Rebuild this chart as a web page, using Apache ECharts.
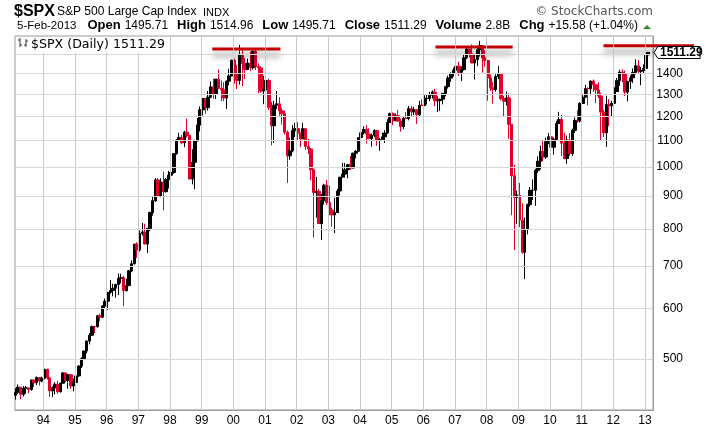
<!DOCTYPE html>
<html><head><meta charset="utf-8">
<script src="https://cdn.jsdelivr.net/npm/echarts@6/dist/echarts.min.js"></script>
<style>html,body{margin:0;padding:0;background:#fff}#c{width:706px;height:435px}</style>
</head><body><div id="c"></div>
<script>
// ---- data (monthly OHLC of $SPX) ----
const firstYear = 1993, firstMonth = 2; // Feb 1993
const opens = [
 438.8,443.4,451.7,440.2,450.2,450.5,448.1,463.6,458.9,467.8,461.8,
 466.5,481.6,467.1,445.8,450.9,456.5,444.3,458.3,475.5,462.7,472.4,453.7,
 459.3,470.4,487.4,500.7,514.7,533.4,544.8,562.1,561.9,584.4,581.5,605.4,
 615.9,636.0,640.4,645.5,654.2,669.1,670.6,640.0,652.0,687.3,705.3,757.0,
 740.7,786.2,790.8,757.1,801.3,848.3,885.1,954.3,899.5,947.3,914.6,955.4,
 970.4,980.3,1049.3,1101.8,1111.8,1090.8,1133.8,1120.7,957.3,1017.0,1098.7,1163.6,
 1229.2,1279.6,1238.3,1286.4,1335.2,1301.8,1372.7,1328.7,1320.4,1282.7,1362.9,1388.9,
 1469.3,1394.5,1366.4,1498.6,1452.4,1420.6,1454.6,1430.8,1517.7,1436.5,1429.4,1315.0,
 1320.3,1366.0,1239.9,1160.3,1249.5,1255.8,1224.4,1211.2,1133.6,1040.9,1059.8,1139.5,
 1148.1,1130.2,1106.7,1147.4,1076.9,1067.1,989.8,911.6,916.1,815.3,885.8,936.3,
 879.8,855.7,841.2,848.2,916.9,963.6,974.5,990.3,1008.0,996.0,1050.7,1058.2,
 1111.9,1131.1,1144.9,1126.2,1107.3,1120.7,1140.8,1101.7,1104.2,1114.6,1130.2,1173.8,
 1211.9,1181.3,1203.6,1180.6,1156.9,1191.5,1191.3,1234.2,1220.3,1228.8,1207.0,1249.5,
 1248.3,1280.1,1280.7,1294.8,1310.6,1270.1,1270.2,1276.7,1303.8,1335.9,1377.9,1400.6,
 1418.3,1438.2,1406.8,1420.9,1482.4,1530.6,1503.4,1455.3,1474.0,1526.8,1549.4,1481.1,
 1468.4,1378.6,1330.6,1322.7,1385.6,1400.4,1280.0,1267.4,1282.8,1166.4,968.8,896.2,
 903.3,825.9,735.1,797.9,872.8,919.1,919.3,987.5,1020.6,1057.1,1036.2,1095.6,
 1115.1,1073.9,1104.5,1169.4,1186.7,1089.4,1030.7,1101.6,1049.3,1141.2,1183.3,1180.6,
 1257.6,1286.1,1327.2,1325.8,1363.6,1345.2,1320.6,1292.3,1218.9,1131.4,1253.3,1247.0,
 1257.6,1312.4,1365.7,1408.5,1397.9,1310.3,1362.2,1379.3,1406.6,1440.7,1412.2,1416.2,
 1426.2,1498.1
];
const highs = [
 450.0,456.3,452.0,453.5,453.9,451.0,464.0,464.0,469.5,468.6,468.9,
 482.9,482.8,469.0,453.0,460.0,462.1,459.0,477.0,476.0,474.0,474.0,466.0,
 472.0,489.0,503.0,515.0,535.0,549.0,564.0,564.0,586.0,589.0,607.0,622.0,
 636.0,665.0,656.0,656.0,681.0,680.0,675.0,668.0,690.0,714.0,757.0,762.0,
 795.0,817.0,815.0,802.0,851.0,898.0,961.0,961.0,960.0,983.0,961.0,986.0,
 992.0,1051.0,1106.0,1131.0,1123.0,1139.0,1190.0,1122.0,1066.0,1103.0,1193.0,1244.0,
 1280.0,1282.0,1316.0,1362.0,1376.0,1373.0,1421.0,1366.0,1358.0,1366.0,1425.0,1473.0,
 1478.0,1444.0,1553.0,1528.0,1481.0,1478.0,1517.0,1525.0,1531.0,1454.0,1438.0,1389.0,
 1383.0,1376.0,1264.0,1269.0,1316.0,1286.0,1239.0,1226.0,1141.0,1111.0,1163.0,1173.0,
 1176.0,1131.0,1173.0,1148.0,1107.0,1070.0,994.0,965.0,924.0,907.0,941.0,954.0,
 935.0,864.0,895.0,924.0,965.0,1015.0,1015.0,1011.0,1040.0,1053.0,1063.0,1112.0,
 1155.0,1158.0,1163.0,1150.0,1128.0,1146.0,1141.0,1110.0,1132.0,1142.0,1188.0,1217.0,
 1217.0,1212.0,1229.0,1191.0,1199.0,1219.0,1246.0,1246.0,1243.0,1233.0,1270.0,1276.0,
 1295.0,1297.0,1311.0,1318.0,1326.0,1290.0,1280.0,1307.0,1340.0,1390.0,1407.0,1431.0,
 1441.0,1462.0,1438.0,1498.0,1535.0,1541.0,1556.0,1503.0,1539.0,1576.0,1553.0,1524.0,
 1471.0,1396.0,1359.0,1397.0,1440.0,1404.0,1292.0,1313.0,1303.0,1167.0,1007.0,918.0,
 944.0,877.0,833.0,876.0,930.0,956.0,993.0,1039.0,1080.0,1101.0,1111.0,1130.0,
 1150.0,1112.0,1181.0,1220.0,1206.0,1131.0,1120.0,1130.0,1148.0,1196.0,1227.0,1263.0,
 1302.0,1345.0,1333.0,1365.0,1371.0,1346.0,1357.0,1307.0,1230.0,1293.0,1277.0,1269.0,
 1333.0,1378.0,1420.0,1423.0,1416.0,1364.0,1392.0,1427.0,1475.0,1471.0,1435.0,1448.0,
 1503.0,1515.0
];
const lows = [
 431.9,441.0,432.5,436.9,441.1,441.6,446.0,452.0,455.0,454.4,460.0,
 464.4,464.3,436.2,435.9,440.0,441.0,443.0,457.0,460.0,449.0,449.0,445.0,
 457.0,469.0,484.0,499.0,510.0,527.0,543.0,549.0,560.0,573.0,580.0,599.0,
 597.0,633.0,627.0,624.0,630.0,657.0,605.0,638.0,650.0,684.0,703.0,720.0,
 737.0,781.0,756.0,733.0,793.0,839.0,882.0,898.0,896.0,855.0,912.0,925.0,
 912.0,976.0,1045.0,1098.0,1085.0,1074.0,1112.0,957.0,939.0,923.0,1096.0,1137.0,
 1204.0,1211.0,1225.0,1282.0,1280.0,1278.0,1325.0,1268.0,1268.0,1233.0,1342.0,1387.0,
 1350.0,1325.0,1346.0,1339.0,1374.0,1420.0,1413.0,1421.0,1419.0,1305.0,1307.0,1254.0,
 1274.0,1228.0,1081.0,1091.0,1232.0,1203.0,1165.0,1124.0,944.0,1026.0,1054.0,1114.0,
 1101.0,1074.0,1106.0,1063.0,1048.0,953.0,775.0,833.0,815.0,768.0,873.0,872.0,
 840.0,806.0,788.0,847.0,902.0,963.0,962.0,960.0,990.0,995.0,1031.0,1058.0,
 1105.0,1124.0,1088.0,1107.0,1076.0,1113.0,1079.0,1060.0,1099.0,1090.0,1127.0,1173.0,
 1163.0,1180.0,1176.0,1136.0,1146.0,1188.0,1183.0,1201.0,1205.0,1168.0,1201.0,1246.0,
 1245.0,1253.0,1268.0,1280.0,1245.0,1219.0,1224.0,1253.0,1290.0,1327.0,1360.0,1385.0,
 1403.0,1389.0,1364.0,1416.0,1476.0,1484.0,1454.0,1371.0,1439.0,1489.0,1406.0,1435.0,
 1270.0,1316.0,1257.0,1312.0,1373.0,1272.0,1200.0,1248.0,1107.0,840.0,741.0,815.0,
 805.0,731.0,667.0,784.0,866.0,888.0,869.0,979.0,991.0,1020.0,1029.0,1086.0,
 1071.0,1045.0,1101.0,1169.0,1040.0,1028.0,1011.0,1040.0,1040.0,1131.0,1173.0,1174.0,
 1257.0,1282.0,1249.0,1295.0,1311.0,1259.0,1282.0,1101.0,1114.0,1075.0,1158.0,1202.0,
 1257.0,1312.0,1340.0,1358.0,1292.0,1267.0,1325.0,1354.0,1397.0,1403.0,1343.0,1398.0,
 1426.0,1495.0
];
const closes = [
 443.4,451.7,440.2,450.2,450.5,448.1,463.6,458.9,467.8,461.8,466.5,
 481.6,467.1,445.8,450.9,456.5,444.3,458.3,475.5,462.7,472.4,453.7,459.3,
 470.4,487.4,500.7,514.7,533.4,544.8,562.1,561.9,584.4,581.5,605.4,615.9,
 636.0,640.4,645.5,654.2,669.1,670.6,640.0,652.0,687.3,705.3,757.0,740.7,
 786.2,790.8,757.1,801.3,848.3,885.1,954.3,899.5,947.3,914.6,955.4,970.4,
 980.3,1049.3,1101.8,1111.8,1090.8,1133.8,1120.7,957.3,1017.0,1098.7,1163.6,1229.2,
 1279.6,1238.3,1286.4,1335.2,1301.8,1372.7,1328.7,1320.4,1282.7,1362.9,1388.9,1469.3,
 1394.5,1366.4,1498.6,1452.4,1420.6,1454.6,1430.8,1517.7,1436.5,1429.4,1315.0,1320.3,
 1366.0,1239.9,1160.3,1249.5,1255.8,1224.4,1211.2,1133.6,1040.9,1059.8,1139.5,1148.1,
 1130.2,1106.7,1147.4,1076.9,1067.1,989.8,911.6,916.1,815.3,885.8,936.3,879.8,
 855.7,841.2,848.2,916.9,963.6,974.5,990.3,1008.0,996.0,1050.7,1058.2,1111.9,
 1131.1,1144.9,1126.2,1107.3,1120.7,1140.8,1101.7,1104.2,1114.6,1130.2,1173.8,1211.9,
 1181.3,1203.6,1180.6,1156.9,1191.5,1191.3,1234.2,1220.3,1228.8,1207.0,1249.5,1248.3,
 1280.1,1280.7,1294.8,1310.6,1270.1,1270.2,1276.7,1303.8,1335.9,1377.9,1400.6,1418.3,
 1438.2,1406.8,1420.9,1482.4,1530.6,1503.4,1455.3,1474.0,1526.8,1549.4,1481.1,1468.4,
 1378.6,1330.6,1322.7,1385.6,1400.4,1280.0,1267.4,1282.8,1166.4,968.8,896.2,903.3,
 825.9,735.1,797.9,872.8,919.1,919.3,987.5,1020.6,1057.1,1036.2,1095.6,1115.1,
 1073.9,1104.5,1169.4,1186.7,1089.4,1030.7,1101.6,1049.3,1141.2,1183.3,1180.6,1257.6,
 1286.1,1327.2,1325.8,1363.6,1345.2,1320.6,1292.3,1218.9,1131.4,1253.3,1247.0,1257.6,
 1312.4,1365.7,1408.5,1397.9,1310.3,1362.2,1379.3,1406.6,1440.7,1412.2,1416.2,1426.2,
 1498.1,1511.3
];
const yearLabels = ['94','95','96','97','98','99','00','01','02','03','04','05','06','07','08','09','10','11','12','13'];
const yearTicks = [1994,1995,1996,1997,1998,1999,2000,2001,2002,2003,2004,2005,2006,2007,2008,2009,2010,2011,2012,2013];
const priceTicks = [500,600,700,800,900,1000,1100,1200,1300,1400,1500];
const priceLabels = ['500','600','700','800','900','1000','1100','1200','1300','1400',''];
// resistance annotations: [start, end, level]
const resistStart = ['1999-05-04','2006-05-21','2011-09-10'];
const resistEnd   = ['2001-06-28','2008-10-27','2014-07-20'];
const resistLevel = [1530, 1542, 1548];
const lastClose = 1511.29;
const lastDate = '2013-02-05';
const headerItems = [
  ['Open', '1495.71'], ['High', '1514.96'], ['Low', '1495.71'],
  ['Close', '1511.29'], ['Volume', '2.8B'], ['Chg', '+15.58 (+1.04%)']
];

// ---- build ----
const ts = s => { const p = s.split('-').map(Number); return Date.UTC(p[0], p[1]-1, p[2]); };
const candles = closes.map((c, i) => {
  const m = firstMonth - 1 + i;
  const y = firstYear + Math.floor(m / 12);
  const mo = m % 12;
  const isLast = i === closes.length - 1;
  const t = Date.UTC(y, mo, isLast ? 3 : 15);
  return [t, opens[i], c, lows[i], highs[i]];
});
const FONT = '"Liberation Sans", Arial, sans-serif';

const gridLinesV = yearTicks.map((y, i) => ({ name: yearLabels[i], xAxis: Date.UTC(y, 0, 1) }));
const gridLinesH = priceTicks.map((v, i) => ({ name: priceLabels[i], yAxis: v,
  label: { show: priceLabels[i] !== '' } }));

const header2 = '{d|5-Feb-2013}{g0|}' + headerItems.map(h => '{b|' + h[0] + '}{s|}{v|' + h[1] + '}').join('{g|}');

const chart = echarts.init(document.getElementById('c'), null, { renderer: 'canvas' });
const graphics = [
  { type: 'text', left: 14, top: 4, style: { text: '$SPX', font: 'bold 16px ' + FONT, fill: '#000' } },
  { type: 'text', left: 57, top: 6, style: { text: 'S&P 500 Large Cap Index', font: '12px ' + FONT, fill: '#000' } },
  { type: 'text', left: 203, top: 7, style: { text: 'INDX', font: '11px ' + FONT, fill: '#000' } },
  { type: 'text', right: 53, top: 6, style: { text: '© StockCharts.com', font: '12px "DejaVu Sans", sans-serif', fill: '#555' } },
  { type: 'text', left: 17, top: 19, style: { text: header2, rich: {
      d: { font: '11.5px ' + FONT, fill: '#000' },
      g0: { width: 11 },
      g: { width: 9 },
      s: { width: 4 },
      b: { font: 'bold 13px ' + FONT, fill: '#000' },
      v: { font: '12px ' + FONT, fill: '#000' }
  } } },
  { type: 'polygon', shape: { points: [[643, 29], [651, 29], [647, 25]] }, style: { fill: '#2e8b2e' } },
  // legend box inside plot
  { type: 'rect', shape: { x: 16, y: 37, width: 153, height: 16 }, style: { fill: '#fff' }, z: 10 },
  { type: 'polyline', shape: { points: [[20, 38], [20, 47]] }, style: { stroke: '#333', lineWidth: 1 }, z: 11 },
  { type: 'polyline', shape: { points: [[18, 40], [20, 40]] }, style: { stroke: '#333', lineWidth: 1 }, z: 11 },
  { type: 'polyline', shape: { points: [[20, 45], [22, 45]] }, style: { stroke: '#333', lineWidth: 1 }, z: 11 },
  { type: 'polyline', shape: { points: [[26, 39], [26, 47]] }, style: { stroke: '#333', lineWidth: 1 }, z: 11 },
  { type: 'polyline', shape: { points: [[24, 45], [26, 45]] }, style: { stroke: '#333', lineWidth: 1 }, z: 11 },
  { type: 'polyline', shape: { points: [[26, 41], [28, 41]] }, style: { stroke: '#333', lineWidth: 1 }, z: 11 },
  { type: 'text', left: 31, top: 38, z: 11, style: { text: '$SPX (Daily) 1511.29', font: '12.6px "DejaVu Sans", sans-serif', fill: '#000' } }
];

chart.setOption({
  animation: false,
  backgroundColor: '#fff',
  grid: { left: 15, right: 53, top: 36, bottom: 25, show: true, borderColor: '#9a9a9a', borderWidth: 1 },
  xAxis: {
    type: 'time', min: ts('1993-02-08'), max: ts('2013-04-03'),
    axisLabel: { show: false }, axisTick: { show: false }, splitLine: { show: false },
    axisLine: { show: true, lineStyle: { color: '#9a9a9a' } }
  },
  yAxis: {
    type: 'log', logBase: 10, position: 'right', min: 416, max: 1604,
    axisLabel: { show: false }, axisTick: { show: false }, splitLine: { show: false }, minorTick: { show: false },
    axisLine: { show: true, lineStyle: { color: '#9a9a9a' } }
  },
  graphic: graphics,
  series: [
    {
      type: 'line', data: [], silent: true, z: 1,
      markLine: {
        silent: true, symbol: ['none', 'none'], animation: false,
        lineStyle: { color: '#c8c8c8', type: 'solid', width: 1 },
        emphasis: { disabled: true },
        label: { position: 'start', formatter: '{b}', distance: 5, color: '#000', fontSize: 12, fontFamily: FONT },
        data: gridLinesV
      }
    },
    {
      type: 'line', data: [], silent: true, z: 1,
      markLine: {
        silent: true, symbol: ['none', 'none'], animation: false,
        lineStyle: { color: '#d6d6d6', type: 'solid', width: 1 },
        emphasis: { disabled: true },
        label: { position: 'end', distance: 3, formatter: p => '{a|' + p.name + '}',
          rich: { a: { width: 27, align: 'right', color: '#000', fontSize: 12, fontFamily: FONT } } },
        data: gridLinesH
      }
    },
    {
      type: 'candlestick', z: 3, barWidth: 3, silent: true,
      data: candles,
      itemStyle: { color: '#000', color0: '#e2002a', borderColor: '#000', borderColor0: '#e2002a', borderWidth: 1 }
    },
    {
      type: 'custom', z: 4, silent: true, clip: false,
      data: resistLevel.map((v, i) => [ts(resistStart[i]), ts(resistEnd[i]), v]),
      encode: { x: [0, 1], y: 2 },
      renderItem: (params, api) => {
        const p1 = api.coord([api.value(0), api.value(2)]);
        const p2 = api.coord([api.value(1), api.value(2)]);
        return { type: 'line', shape: { x1: p1[0], y1: p1[1], x2: p2[0], y2: p2[1] },
          style: { stroke: '#c40000', lineWidth: 3, shadowColor: 'rgba(0,0,0,0.45)', shadowBlur: 6, shadowOffsetY: 6 } };
      }
    },
    {
      type: 'custom', z: 5, silent: true, clip: false,
      data: [[ts(lastDate), lastClose]],
      renderItem: (params, api) => {
        const y = api.coord([api.value(0), api.value(1)])[1];
        const x = params.coordSys.x + params.coordSys.width;
        return { type: 'group', children: [
          { type: 'polygon', shape: { points: [[x + 1, y], [x + 5, y - 6], [x + 47, y - 6], [x + 47, y + 6], [x + 5, y + 6]] },
            style: { fill: '#fff', stroke: '#000', lineWidth: 1 } },
          { type: 'text', style: { x: x + 7, y: y, text: lastClose.toFixed(2), font: 'bold 12px ' + FONT, fill: '#000', verticalAlign: 'middle' } }
        ] };
      }
    }
  ]
});
</script>
</body></html>
